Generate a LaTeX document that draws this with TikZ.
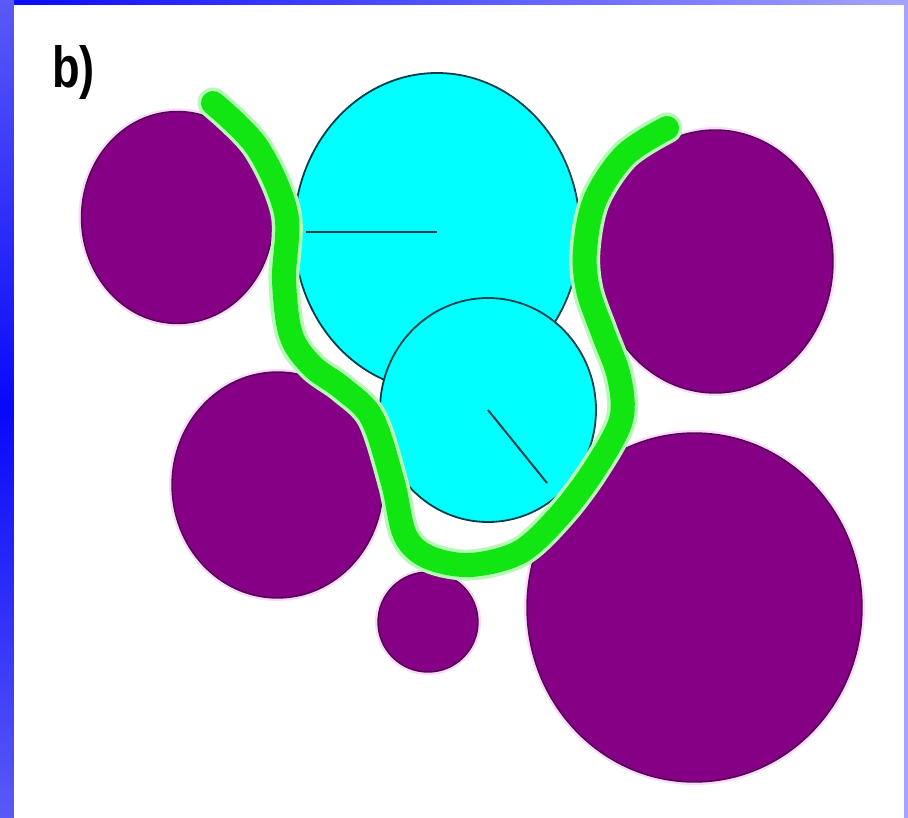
\documentclass[tikz,border=0pt]{standalone}
\usepackage{fontspec}
\newfontfamily\tagfont{Liberation Sans}
\definecolor{FrameBlue}{HTML}{5A5AF8}
\definecolor{DeepBlue}{HTML}{0808FA}
\definecolor{PaleBlue}{HTML}{A4A4FF}
\definecolor{Plum}{HTML}{850085}
\definecolor{PlumEdge}{HTML}{4E0A4E}
\definecolor{Halo}{HTML}{FAD9FA}
\definecolor{Aqua}{HTML}{00FFFF}
\definecolor{AquaEdge}{HTML}{00414B}
\definecolor{Lime}{HTML}{12E612}
\tikzset{
  halo/.style={draw=Halo, line width=6pt},
  grain/.style={fill=Plum, draw=PlumEdge, line width=1.4pt},
  bubble/.style={fill=Aqua, draw=AquaEdge, line width=1.8pt},
  spoke/.style={draw=AquaEdge, line width=2pt},
  glow/.style={draw=Lime!30, line width=31pt, line cap=round, line join=round},
  contact/.style={draw=Lime, line width=24pt, line cap=round, line join=round},
  tag/.style={font=\tagfont\bfseries\fontsize{58}{58}\selectfont,
    inner sep=0pt, anchor=north west, xscale=0.78}
}

\begin{document}
\begin{tikzpicture}[x=1pt,y=-1pt]
  \useasboundingbox (0,0) rectangle (908,818);
  % frame of the slide
  \fill[FrameBlue] (0,0) rectangle (908,818);
  \shade[left color=DeepBlue, right color=PaleBlue] (0,0) rectangle (908,5);
  \shade[top color=FrameBlue, bottom color=FrameBlue, middle color=DeepBlue] (0,0) rectangle (14,818);
  \fill[PaleBlue] (904,5) rectangle (908,818);
  \fill[white] (14,5) rectangle (904,818);

  \node[tag] (label) at (52,45) {b)};

  % purple grains
  \coordinate (g1) at (177.5,217.5);
  \coordinate (g2) at (715,261.5);
  \coordinate (g3) at (277.5,485);
  \coordinate (g4) at (428,622);
  \coordinate (g5) at (694.5,607.5);
  \draw[halo] (g1) ellipse [x radius=96, y radius=106];
  \draw[halo] (g2) ellipse [x radius=118, y radius=131.5];
  \draw[halo] (g3) ellipse [x radius=105.5, y radius=113];
  \draw[halo] (g4) ellipse [x radius=50, y radius=50];
  \draw[halo] (g5) ellipse [x radius=167.5, y radius=174.5];
  \draw[grain] (g1) ellipse [x radius=96, y radius=106];
  \draw[grain] (g2) ellipse [x radius=118, y radius=131.5];
  \draw[grain] (g3) ellipse [x radius=105.5, y radius=113];
  \draw[grain] (g4) ellipse [x radius=50, y radius=50];
  \draw[grain] (g5) ellipse [x radius=167.5, y radius=174.5];

  % cyan bubbles with their radii
  \coordinate (big) at (437,232);
  \coordinate (small) at (488,410);
  \draw[bubble] (big) ellipse [x radius=143, y radius=159];
  \draw[bubble] (small) ellipse [x radius=108, y radius=112];
  \coordinate (bigrim) at (306,232);
  \coordinate (smallrim) at (547,483);
  \draw[spoke] (bigrim) -- (big);
  \draw[spoke] (small) -- (smallrim);

  % green contact line
  \draw[glow] plot[smooth, tension=0.55] coordinates {
    (213,103) (257,147) (286,213) (284,280) (291,335) (312,366) (342,388)
    (372,418) (393,483) (405,535) (428,557) (470,565) (520,552) (560,515)
    (594,470) (621,420) (619,377) (603,333) (588,290) (585,250) (595,200)
    (625,155) (667,128)};
  \draw[contact] plot[smooth, tension=0.55] coordinates {
    (213,103) (257,147) (286,213) (284,280) (291,335) (312,366) (342,388)
    (372,418) (393,483) (405,535) (428,557) (470,565) (520,552) (560,515)
    (594,470) (621,420) (619,377) (603,333) (588,290) (585,250) (595,200)
    (625,155) (667,128)};
\end{tikzpicture}
\end{document}
